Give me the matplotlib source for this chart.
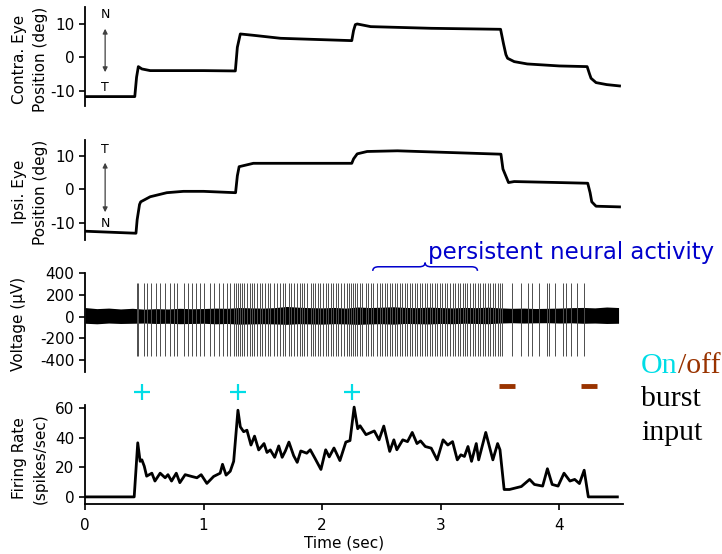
import matplotlib
matplotlib.use('Agg')
import matplotlib.pyplot as plt
from matplotlib.path import Path
from matplotlib.patches import PathPatch

plt.rcParams['font.family'] = 'DejaVu Sans'
plt.rcParams['axes.unicode_minus'] = False

# contralateral eye position (deg)
contra_t = [0, 0.42, 0.435, 0.45, 0.48, 0.55, 1.0, 1.268, 1.285, 1.31, 1.42, 1.65, 1.82, 2.25,
            2.265, 2.28, 2.296, 2.41, 2.92, 3.505, 3.53, 3.55, 3.564, 3.62, 3.73, 4.0, 4.235,
            4.255, 4.268, 4.31, 4.4, 4.508]
contra_v = [-11.8, -11.8, -6, -2.8, -3.5, -4.0, -4.0, -4.1, 3, 7.0, 6.6, 5.7, 5.5, 5.0,
            8, 9.8, 10.0, 9.2, 8.7, 8.4, 4, 0.8, -0.3, -1.3, -2.0, -2.6, -2.8,
            -5, -6.3, -7.6, -8.2, -8.6]

# ipsilateral eye position (deg)
ipsi_t = [0, 0.43, 0.44, 0.46, 0.47, 0.55, 0.69, 0.83, 1.0, 1.27, 1.285, 1.30, 1.42, 1.82, 2.25,
          2.265, 2.296, 2.38, 2.635, 3.508, 3.525, 3.572, 3.62, 4.0, 4.24, 4.26, 4.274, 4.31, 4.508]
ipsi_v = [-12.4, -13.0, -9, -4.5, -3.7, -2.2, -1.0, -0.6, -0.6, -1.0, 4, 6.7, 7.7, 7.7, 7.7,
          9, 10.5, 11.2, 11.4, 10.4, 6, 2.0, 2.3, 2.0, 1.8, -1, -3.7, -5.0, -5.2]

# extracellular recording: spike times (sec) and noise envelope (uV)
spike_times = [0.437, 0.451, 0.499, 0.521, 0.555, 0.600, 0.634, 0.676, 0.713, 0.747, 0.780,
               0.831, 0.865, 0.902, 0.938, 0.972, 1.006, 1.057, 1.090, 1.127, 1.164, 1.198,
               1.226, 1.260, 1.276, 1.288, 1.305, 1.324, 1.344, 1.367, 1.389, 1.409, 1.429,
               1.451, 1.474, 1.493, 1.522, 1.541, 1.564, 1.592, 1.620, 1.648, 1.671, 1.691,
               1.719, 1.739, 1.761, 1.784, 1.812, 1.832, 1.851, 1.874, 1.902, 1.924, 1.944,
               1.964, 1.986, 2.009, 2.029, 2.048, 2.071, 2.094, 2.113, 2.133, 2.156, 2.184,
               2.206, 2.226, 2.246, 2.263, 2.274, 2.296, 2.319, 2.339, 2.367, 2.387, 2.409,
               2.432, 2.460, 2.485, 2.508, 2.530, 2.550, 2.570, 2.592, 2.615, 2.635, 2.654,
               2.677, 2.699, 2.719, 2.739, 2.761, 2.784, 2.804, 2.823, 2.846, 2.868, 2.888,
               2.908, 2.930, 2.953, 2.973, 2.992, 3.015, 3.037, 3.057, 3.077, 3.100, 3.122,
               3.142, 3.161, 3.184, 3.207, 3.226, 3.246, 3.269, 3.291, 3.311, 3.331, 3.353,
               3.376, 3.395, 3.415, 3.438, 3.460, 3.480, 3.500, 3.516, 3.601, 3.677, 3.734,
               3.770, 3.832, 3.894, 3.917, 3.967, 4.035, 4.058, 4.100, 4.148, 4.212]
spike_top = 310
spike_bot = -360
noise_t = [0.0, 0.1, 0.2, 0.3, 0.4, 0.5, 0.6, 0.7, 0.8, 0.9, 1.0, 1.1, 1.2, 1.3, 1.4, 1.5,
           1.6, 1.7, 1.8, 1.9, 2.0, 2.1, 2.2, 2.3, 2.4, 2.5, 2.6, 2.7, 2.8, 2.9, 3.0, 3.1,
           3.2, 3.3, 3.4, 3.5, 3.6, 3.7, 3.8, 3.9, 4.0, 4.1, 4.2, 4.3, 4.4, 4.5]
noise_hi = [85, 75, 80, 72, 78, 70, 75, 72, 78, 74, 76, 80, 78, 85, 82, 80, 84, 95, 88, 84,
            82, 86, 80, 90, 85, 88, 92, 86, 84, 88, 85, 82, 86, 84, 88, 82, 78, 80, 76, 78,
            80, 84, 86, 82, 90, 85]
noise_lo = [-60, -65, -58, -62, -60, -58, -62, -60, -64, -62, -60, -65, -62, -68, -66, -64,
            -66, -70, -64, -66, -68, -64, -66, -70, -66, -64, -68, -62, -64, -66, -62, -64,
            -60, -62, -64, -58, -55, -58, -56, -55, -58, -56, -60, -58, -62, -60]

# firing rate (spikes/sec)
rate_t = [0, 0.415, 0.445, 0.465, 0.48, 0.50, 0.52, 0.564, 0.59, 0.634, 0.676, 0.70, 0.73,
          0.77, 0.80, 0.845, 0.90, 0.944, 0.98, 1.028, 1.085, 1.14, 1.16, 1.19, 1.225, 1.254,
          1.29, 1.31, 1.338, 1.366, 1.40, 1.43, 1.465, 1.51, 1.535, 1.563, 1.60, 1.634,
          1.663, 1.69, 1.72, 1.76, 1.79, 1.82, 1.87, 1.90, 1.94, 1.99, 2.03, 2.06, 2.10,
          2.15, 2.20, 2.235, 2.27, 2.30, 2.32, 2.37, 2.44, 2.48, 2.52, 2.57, 2.605, 2.63,
          2.68, 2.72, 2.76, 2.80, 2.83, 2.87, 2.92, 2.97, 3.02, 3.06, 3.10, 3.14, 3.17,
          3.20, 3.23, 3.26, 3.30, 3.32, 3.38, 3.44, 3.48, 3.50, 3.535, 3.58, 3.68, 3.75,
          3.79, 3.86, 3.90, 3.94, 3.99, 4.04, 4.09, 4.13, 4.17, 4.21, 4.245, 4.49]
rate_v = [0, 0, 36.5, 24, 25, 20.7, 14, 16, 10.7, 16, 12.9, 15, 10.7,
          16, 9.6, 15, 13.8, 12.9, 15, 9.1, 13.8, 16, 22, 14.7, 17.3, 24,
          58.5, 47.3, 44, 45, 35, 41, 31.7, 36, 30, 31.7, 26.7, 34.4,
          26.7, 31, 37, 27.8, 23.3, 31, 29.5, 31.8, 26, 18.5, 31.8, 27, 33,
          24.5, 37, 38, 60.6, 46, 48, 42, 44.5, 38.5, 47.8, 30.7, 38.5, 31.8,
          38.5, 37.3, 43.5, 36, 37.8, 34, 32.9, 25, 38.5, 35, 37.3, 25, 28.4,
          27.3, 34, 24, 36, 25, 43.5, 25, 36, 31.8, 5, 5, 7, 11.8,
          8.4, 7.3, 19, 8.4, 7.3, 16, 10.7, 11.8, 9, 18, 0, 0]

on_times = [0.478, 1.294, 2.256]
off_times = [3.56, 4.25]

blue = '#0000CC'
cyan = '#00DDE6'
brown = '#993300'

fig = plt.figure(figsize=(7.22, 5.54), dpi=100)
left, width = 0.1177, 0.7456
ax1 = fig.add_axes([left, 0.8094, width, 0.1774])
ax2 = fig.add_axes([left, 0.5668, width, 0.1805])
ax3 = fig.add_axes([left, 0.3290, width, 0.1787])
ax4 = fig.add_axes([left, 0.0897, width, 0.1792])

for ax in (ax1, ax2, ax3, ax4):
    ax.set_xlim(0, 4.54)
    for s in ('top', 'right'):
        ax.spines[s].set_visible(False)
    ax.spines['left'].set_linewidth(1.3)
    ax.spines['bottom'].set_linewidth(1.3)
    ax.tick_params(direction='out', length=4.5, width=1.2, labelsize=11, pad=3)
for ax in (ax1, ax2, ax3):
    ax.spines['bottom'].set_visible(False)
    ax.set_xticks([])

ax1.plot(contra_t, contra_v, color='black', lw=2)
ax1.set_ylim(-14.5, 15)
ax1.set_yticks([-10, 0, 10])
ax1.set_ylabel('Contra. Eye\nPosition (deg)', fontsize=11, linespacing=1.45, ha='center', va='center')
ax1.yaxis.set_label_coords(-0.102, 0.47)
ax1.annotate('', xy=(0.17, 9.4), xytext=(0.17, -5.3),
             arrowprops=dict(arrowstyle='<|-|>', color='0.25', lw=0.9, mutation_scale=7))
ax1.text(0.17, 12.7, 'N', ha='center', va='center', fontsize=9)
ax1.text(0.17, -9.2, 'T', ha='center', va='center', fontsize=9)

ax2.plot(ipsi_t, ipsi_v, color='black', lw=2)
ax2.set_ylim(-15, 14.6)
ax2.set_yticks([-10, 0, 10])
ax2.set_ylabel('Ipsi. Eye\nPosition (deg)', fontsize=11, linespacing=1.45, ha='center', va='center')
ax2.yaxis.set_label_coords(-0.102, 0.48)
ax2.annotate('', xy=(0.17, 8.7), xytext=(0.17, -7.6),
             arrowprops=dict(arrowstyle='<|-|>', color='0.25', lw=0.9, mutation_scale=7))
ax2.text(0.17, 11.7, 'T', ha='center', va='center', fontsize=9)
ax2.text(0.17, -10.0, 'N', ha='center', va='center', fontsize=9)

ax3.vlines(spike_times, spike_bot, spike_top, color='0.3', lw=0.7)
ax3.fill_between(noise_t, noise_lo, noise_hi, color='black', lw=0)
ax3.set_ylim(-507, 406)
ax3.set_yticks([-400, -200, 0, 200, 400])
ax3.set_ylabel('Voltage (\u00b5V)', fontsize=11, ha='center', va='center')
ax3.yaxis.set_label_coords(-0.123, 0.48)

# curly brace over the persistent activity
def brace(ax, x0, x1, y, h, w, color):
    xm = (x0 + x1) / 2
    verts = [(x0, y - h), (x0, y), (x0 + w, y), (xm - w, y), (xm, y), (xm, y + h),
             (xm, y), (xm + w, y), (x1 - w, y), (x1, y), (x1, y - h)]
    codes = [Path.MOVETO, Path.CURVE3, Path.CURVE3, Path.LINETO, Path.CURVE3, Path.CURVE3,
             Path.CURVE3, Path.CURVE3, Path.LINETO, Path.CURVE3, Path.CURVE3]
    ax.add_patch(PathPatch(Path(verts, codes), fill=False, edgecolor=color, lw=1.1, clip_on=False))

brace(ax3, 2.427, 3.31, 461, 38, 0.05, blue)
ax3.text(2.895, 532, 'persistent neural activity', color=blue, fontsize=16.5,
         ha='left', va='baseline', clip_on=False)

ax4.plot(rate_t, rate_v, color='black', lw=2)
ax4.set_ylim(-5, 62)
ax4.set_yticks([0, 20, 40, 60])
ax4.set_xticks([0, 1, 2, 3, 4])
ax4.tick_params(axis='x', pad=5)
ax4.set_ylabel('Firing Rate\n(spikes/sec)', fontsize=11, linespacing=1.45, ha='center', va='center')
ax4.yaxis.set_label_coords(-0.102, 0.465)
ax4.set_xlabel('Time (sec)', fontsize=11, va='center')
ax4.xaxis.set_label_coords(0.482, -0.39)
ax4.plot(on_times, [71] * len(on_times), '+', color=cyan, ms=12, mew=1.6, clip_on=False)
ax4.plot(off_times, [75] * len(off_times), '_', color=brown, ms=11.5, mew=3.5, clip_on=False)

serif = 'Liberation Serif'
t_on = fig.text(0.888, 0.3267, 'On', color=cyan, fontsize=21.5, family=serif, va='baseline')
fig.canvas.draw()
ax4.annotate('/off', xy=(1, 0), xycoords=t_on, color=brown, fontsize=21.5, family=serif,
             ha='left', va='bottom', annotation_clip=False)
fig.text(0.888, 0.2671, 'burst', color='black', fontsize=21.5, family=serif, va='baseline')
fig.text(0.888, 0.2058, 'input', color='black', fontsize=21.5, family=serif, va='baseline')

fig.savefig('out.png', dpi=100)
